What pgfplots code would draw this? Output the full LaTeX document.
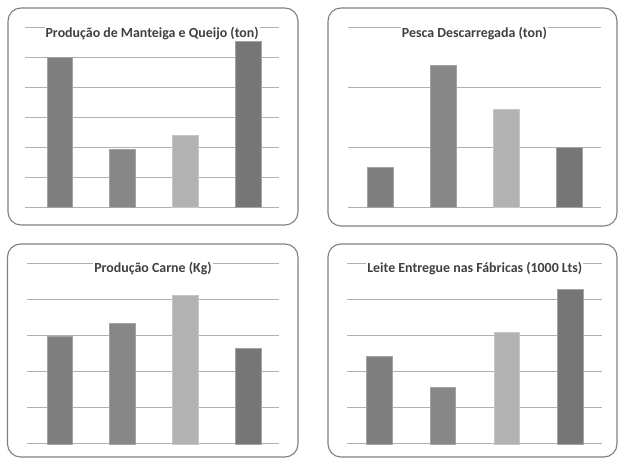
\documentclass[border=0pt]{standalone}
\usepackage{pgfplots}
\pgfplotsset{compat=1.18}
\usepackage{fontspec}
\setmainfont{Carlito}
\definecolor{cA}{HTML}{7F7F7F}
\definecolor{cB}{HTML}{878787}
\definecolor{cC}{HTML}{B2B2B2}
\definecolor{cD}{HTML}{767676}
\definecolor{eA}{HTML}{A3A3A3}
\definecolor{eC}{HTML}{C6C6C6}
\definecolor{gridc}{HTML}{B0B0B0}
\definecolor{framec}{HTML}{7F7F7F}
\definecolor{titlec}{HTML}{404040}
\pgfplotsset{
  panel/.style={
    scale only axis, clip=false, ymin=0,
    axis line style={draw=none},
    xtick=\empty, yticklabels={}, major tick length=0pt,
    ymajorgrids, grid style={gridc, line width=1bp},
    ybar, bar width=25.5bp, bar shift=0pt,
  },
}
\tikzset{
  ttl/.style={fill=white, inner xsep=1bp, inner ysep=1.5bp, text=titlec, anchor=base,
    font=\bfseries\fontsize{13.9bp}{16bp}\selectfont},
}
\begin{document}
\begin{tikzpicture}[x=1bp,y=1bp]
\useasboundingbox (0,0) rectangle (618,458);
\draw[framec, line width=1.1bp, rounded corners=13bp] (8,233) rectangle (298,450);
\draw[framec, line width=1.1bp, rounded corners=13bp] (328,232) rectangle (617,450);
\draw[framec, line width=1.1bp, rounded corners=13bp] (7.5,1) rectangle (298,214);
\draw[framec, line width=1.1bp, rounded corners=13bp] (328,1) rectangle (617,214);

% Panel 1
\begin{axis}[panel, at={(25bp,250.3bp)}, anchor=south west, width=254.3bp, height=180bp,
  xmin=0.4515, xmax=4.494, ymax=6, ytick={0,1,...,6}]
\addplot[fill=cA, draw=eA] coordinates {(1,5.00)};
\addplot[fill=cB, draw=eA] coordinates {(2,1.96)};
\addplot[fill=cC, draw=eC] coordinates {(3,2.41)};
\addplot[fill=cD, draw=eA] coordinates {(4,5.56)};
\node[ttl] at (rel axis cs:0.5,1) [yshift=-9.5bp] {Produção de Manteiga e Queijo (ton)};
\end{axis}

% Panel 2
\begin{axis}[panel, at={(348bp,250.3bp)}, anchor=south west, width=252.7bp, height=180bp,
  xmin=0.4865, xmax=4.504, ymax=3, ytick={0,1,2,3}]
\addplot[fill=cA, draw=eA] coordinates {(1,0.68)};
\addplot[fill=cB, draw=eA] coordinates {(2,2.37)};
\addplot[fill=cC, draw=eC] coordinates {(3,1.645)};
\addplot[fill=cD, draw=eA] coordinates {(4,1.00)};
\node[ttl] at (rel axis cs:0.5,1) [yshift=-9.5bp] {Pesca Descarregada (ton)};
\end{axis}

% Panel 3
\begin{axis}[panel, at={(26.7bp,14bp)}, anchor=south west, width=252.6bp, height=180.7bp,
  xmin=0.4785, xmax=4.494, ymax=5, ytick={0,1,...,5}]
\addplot[fill=cA, draw=eA] coordinates {(1,2.98)};
\addplot[fill=cB, draw=eA] coordinates {(2,3.33)};
\addplot[fill=cC, draw=eC] coordinates {(3,4.12)};
\addplot[fill=cD, draw=eA] coordinates {(4,2.64)};
\node[ttl] at (rel axis cs:0.5,1) [yshift=-9.5bp] {Produção Carne (Kg)};
\end{axis}

% Panel 4
\begin{axis}[panel, at={(347.3bp,14bp)}, anchor=south west, width=255bp, height=180.7bp,
  xmin=0.5, xmax=4.5, ymax=5, ytick={0,1,...,5}]
\addplot[fill=cA, draw=eA] coordinates {(1,2.43)};
\addplot[fill=cB, draw=eA] coordinates {(2,1.56)};
\addplot[fill=cC, draw=eC] coordinates {(3,3.09)};
\addplot[fill=cD, draw=eA] coordinates {(4,4.28)};
\node[ttl] at (rel axis cs:0.5,1) [yshift=-9.5bp] {Leite Entregue nas Fábricas (1000 Lts)};
\end{axis}
\end{tikzpicture}
\end{document}
